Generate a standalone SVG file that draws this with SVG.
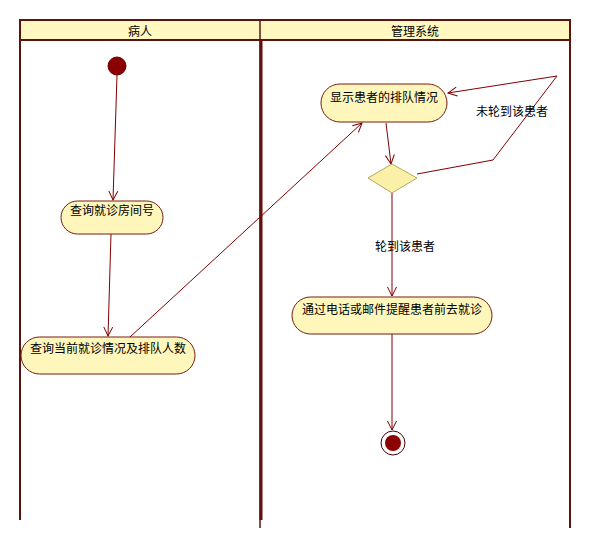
<svg xmlns="http://www.w3.org/2000/svg" width="591" height="547" viewBox="0 0 591 547">
<style>
.lane{fill:none;stroke:#5c1410;stroke-width:2}
.hdr{fill:#fff8c0;stroke:#5c1410;stroke-width:2}
.node{fill:#fff6bc;stroke:#7a1a10;stroke-width:1}
.dia{fill:#fbf0a8;stroke:#b8a860;stroke-width:1}
.txt{font-family:"Noto Sans CJK SC","Liberation Sans",sans-serif;font-size:12px;fill:#000;text-anchor:middle;dominant-baseline:central}
.edge{fill:none;stroke:#800000;stroke-width:1}
</style>
<defs>
<marker id="arr" markerUnits="userSpaceOnUse" markerWidth="12" markerHeight="12" viewBox="0 0 12 12" refX="10" refY="6" orient="auto">
<path d="M1,1.5 L10,6 L1,10.5" fill="none" stroke="#800000" stroke-width="1"/>
</marker>
</defs>
<rect width="591" height="547" fill="#fff"/>
<g id="swimlanes">
<rect class="hdr" x="20" y="20" width="550" height="20"/>
<line class="lane" x1="20" y1="20" x2="20" y2="520"/>
<line x1="261" y1="40" x2="261" y2="520" stroke="#6a0a0a" stroke-width="3"/>
<line x1="260" y1="20" x2="260" y2="528" stroke="#5c1410" stroke-width="1.5"/>
<line class="lane" x1="570" y1="20" x2="570" y2="528"/>
<text class="txt" x="140" y="30">病人</text>
<text class="txt" x="415" y="30">管理系统</text>
</g>
<g id="connectors">
<line class="edge" x1="117" y1="75" x2="113" y2="200" marker-end="url(#arr)"/>
<line class="edge" x1="111" y1="234" x2="108" y2="336" marker-end="url(#arr)"/>
<line class="edge" x1="130" y1="337" x2="362" y2="123" marker-end="url(#arr)"/>
<line class="edge" x1="386" y1="123" x2="391" y2="164" marker-end="url(#arr)"/>
<polyline class="edge" points="417,174 493,160 557,76 448,93" marker-end="url(#arr)"/>
<line class="edge" x1="392" y1="193" x2="392" y2="296" marker-end="url(#arr)"/>
<line class="edge" x1="392" y1="334" x2="392" y2="430" marker-end="url(#arr)"/>
<text class="txt" x="512" y="110">未轮到该患者</text>
<text class="txt" x="405" y="245">轮到该患者</text>
</g>
<g id="start">
<circle cx="117" cy="66" r="9" fill="#8b0000" stroke="#6a0000" stroke-width="1"/>
</g>
<g id="act1">
<rect class="node" x="61" y="201" width="102" height="33" rx="16.5"/>
<text class="txt" x="112" y="209">查询就诊房间号</text>
</g>
<g id="act2">
<rect class="node" x="21" y="337" width="174" height="37" rx="18.5"/>
<text class="txt" x="108" y="347">查询当前就诊情况及排队人数</text>
</g>
<g id="display">
<rect class="node" x="321" y="84" width="126" height="38" rx="19"/>
<text class="txt" x="384" y="96">显示患者的排队情况</text>
</g>
<g id="decision">
<polygon class="dia" points="392,164 417,178 392,193 368,178"/>
</g>
<g id="notify">
<rect class="node" x="292" y="297" width="200" height="37" rx="18.5"/>
<text class="txt" x="392" y="308">通过电话或邮件提醒患者前去就诊</text>
</g>
<g id="end">
<circle cx="393" cy="443" r="12" fill="#fff" stroke="#400000" stroke-width="1"/>
<circle cx="393" cy="443" r="8" fill="#8b0000"/>
</g>
</svg>
